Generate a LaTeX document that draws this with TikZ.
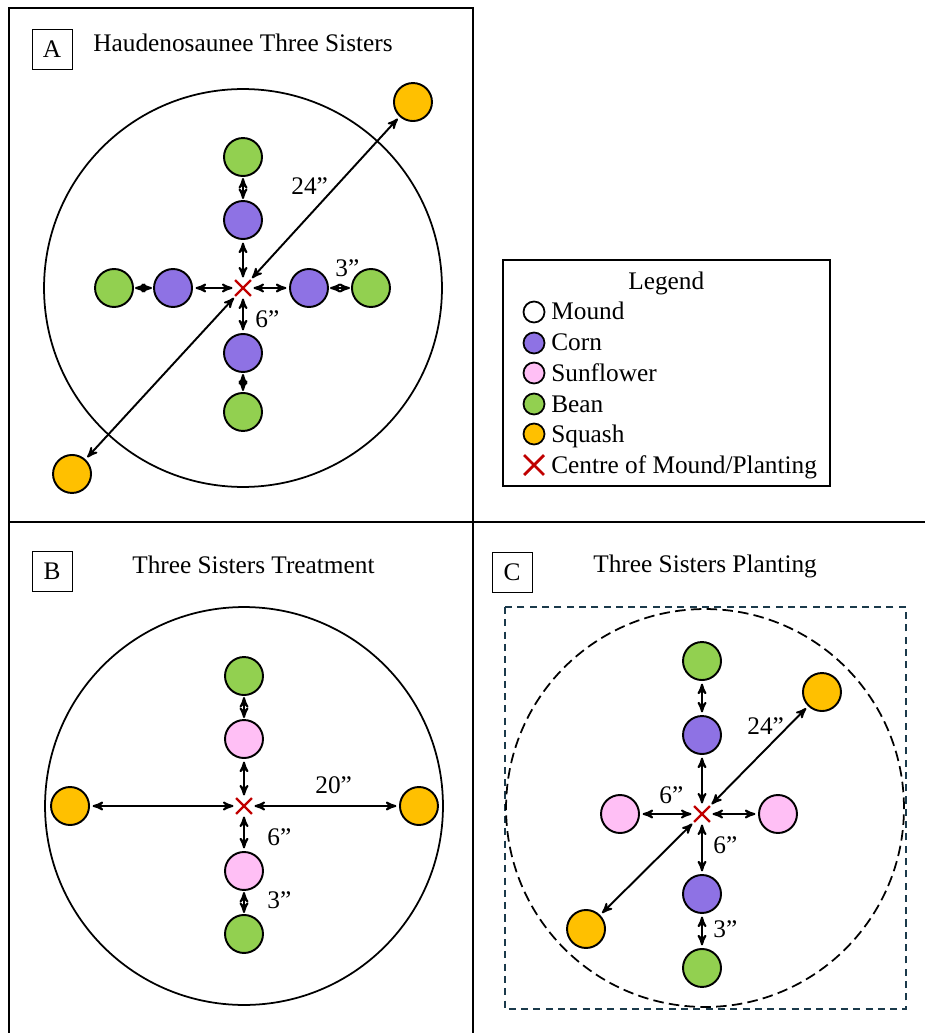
\documentclass[tikz,border=0pt]{standalone}
\usepackage{fontspec}
\setmainfont{Liberation Serif}
\usetikzlibrary{arrows,positioning,shapes.misc}

\definecolor{cornpurple}{HTML}{8E72E4}
\definecolor{sunpink}{HTML}{FFBFF5}
\definecolor{beangreen}{HTML}{92D050}
\definecolor{squashgold}{HTML}{FFC000}
\definecolor{centrered}{HTML}{C00000}
\definecolor{plotteal}{HTML}{1B3A4B}

\tikzset{
	plant/.style={circle,draw,line width=1.1pt,minimum size=0.76cm,inner sep=0pt},
	corn/.style={plant,fill=cornpurple},
	sunflower/.style={plant,fill=sunpink},
	bean/.style={plant,fill=beangreen},
	squash/.style={plant,fill=squashgold},
	centre/.style={cross out,draw=centrered,line width=1.3pt,minimum size=0.27cm,inner sep=0pt},
	mound/.style={circle,draw,line width=1pt,minimum size=7.96cm,inner sep=0pt},
	tag/.style={draw,line width=0.5pt,minimum size=0.8cm,inner sep=0pt},
	frame/.style={line width=1.1pt},
	dim/.style={<->,line width=1.1pt,shorten >=1.5pt,shorten <=1.5pt},
	dimshort/.style={<->,line width=1.1pt,shorten >=0.6pt,shorten <=0.6pt},
	txt/.style={anchor=base west,inner sep=0pt},
	key/.style={circle,draw,line width=1pt,minimum size=0.42cm,inner sep=0pt}
}

\begin{document}
\begin{tikzpicture}[x=0.02cm,y=-0.02cm,>=stealth',on grid,font=\fontsize{14.4}{17}\selectfont]
	\useasboundingbox (0,0) rectangle (925,1033);
	% panel frames
	\draw[frame] (9,1033) -- (9,8) -- (473,8) -- (473,1033);
	\draw[frame] (9,522) -- (925,522);

	% panel A
	\node[tag] (tagA) at (52,49.5) {A};
	\node[txt] (titleA) at (93,52) {Haudenosaunee Three Sisters};
	\node[mound] (moundA) at (243,288) {};
	\node[centre] (cA) at (243,288) {};
	\node[corn,above=1.36cm of cA] (cornNA) {};
	\node[bean,above=1.26cm of cornNA] (beanNA) {};
	\node[corn,below=1.30cm of cA] (cornSA) {};
	\node[bean,below=1.18cm of cornSA] (beanSA) {};
	\node[corn,left=1.40cm of cA] (cornWA) {};
	\node[bean,left=1.18cm of cornWA] (beanWA) {};
	\node[corn,right=1.32cm of cA] (cornEA) {};
	\node[bean,right=1.24cm of cornEA] (beanEA) {};
	\node[squash,above right=3.72cm and 3.40cm of cA] (squashNEA) {};
	\node[squash,below left=3.72cm and 3.42cm of cA] (squashSWA) {};
	\path[dim]
		(cA) edge (cornNA) edge (cornSA) edge (cornWA) edge (cornEA)
		(cA) edge (squashNEA) edge (squashSWA);
	\path[dimshort]
		(cornNA) edge (beanNA) (cornSA) edge (beanSA)
		(cornWA) edge (beanWA) (cornEA) edge (beanEA);
	\node[txt] (dimA1) at (291,195) {24”};
	\node[txt] (dimA2) at (335,277) {3”};
	\node[txt] (dimA3) at (255,328) {6”};

	% legend
	\draw[frame] (503,260) rectangle (830,486);
	\node[txt] (legTitle) at (628,290) {Legend};
	\node[key,fill=white] (keyMound) at (534,312) {};
	\node[key,fill=cornpurple] (keyCorn) at (534,343) {};
	\node[key,fill=sunpink] (keySun) at (534,373) {};
	\node[key,fill=beangreen] (keyBean) at (534,404) {};
	\node[key,fill=squashgold] (keySquash) at (534,434) {};
	\node[cross out,draw=centrered,line width=1.6pt,minimum size=0.34cm,inner sep=0pt] (keyCentre) at (534,465) {};
	\node[txt] (legMound) at (551,320) {Mound};
	\node[txt] (legCorn) at (551,351) {Corn};
	\node[txt] (legSun) at (551,381) {Sunflower};
	\node[txt] (legBean) at (551,412) {Bean};
	\node[txt] (legSquash) at (551,442) {Squash};
	\node[txt] (legCentre) at (551,473) {Centre of Mound/Planting};

	% panel B
	\node[tag] (tagB) at (52,571.5) {B};
	\node[txt] (titleB) at (132,573) {Three Sisters Treatment};
	\node[mound] (moundB) at (244,806) {};
	\node[centre] (cB) at (244,806) {};
	\node[sunflower,above=1.34cm of cB] (sunNB) {};
	\node[bean,above=1.26cm of sunNB] (beanNB) {};
	\node[sunflower,below=1.30cm of cB] (sunSB) {};
	\node[bean,below=1.26cm of sunSB] (beanSB) {};
	\node[squash,left=3.48cm of cB] (squashWB) {};
	\node[squash,right=3.50cm of cB] (squashEB) {};
	\path[dim]
		(cB) edge (sunNB) edge (sunSB) edge (squashWB) edge (squashEB);
	\path[dimshort]
		(sunNB) edge (beanNB) (sunSB) edge (beanSB);
	\node[txt] (dimB1) at (315,793) {20”};
	\node[txt] (dimB2) at (267,845) {6”};
	\node[txt] (dimB3) at (267,908) {3”};

	% panel C
	\node[tag] (tagC) at (512,572) {C};
	\node[txt] (titleC) at (593,572) {Three Sisters Planting};
	\draw[plotteal,line width=1pt,dash pattern=on 4pt off 3pt] (505,607) rectangle (906,1009);
	\node[mound,dash pattern=on 6pt off 3pt] (moundC) at (705,808) {};
	\node[centre] (cC) at (702,814) {};
	\node[corn,above=1.58cm of cC] (cornNC) {};
	\node[bean,above=1.48cm of cornNC] (beanNC) {};
	\node[corn,below=1.60cm of cC] (cornSC) {};
	\node[bean,below=1.48cm of cornSC] (beanSC) {};
	\node[sunflower,left=1.64cm of cC] (sunWC) {};
	\node[sunflower,right=1.52cm of cC] (sunEC) {};
	\node[squash,above right=2.44cm and 2.40cm of cC] (squashNEC) {};
	\node[squash,below left=2.30cm and 2.32cm of cC] (squashSWC) {};
	\path[dim]
		(cC) edge (cornNC) edge (cornSC) edge (sunWC) edge (sunEC)
		(cC) edge (squashNEC) edge (squashSWC)
		(cornNC) edge (beanNC) (cornSC) edge (beanSC);
	\node[txt] (dimC1) at (747,734) {24”};
	\node[txt] (dimC2) at (659,803) {6”};
	\node[txt] (dimC3) at (713,853) {6”};
	\node[txt] (dimC4) at (713,937) {3”};
\end{tikzpicture}
\end{document}
